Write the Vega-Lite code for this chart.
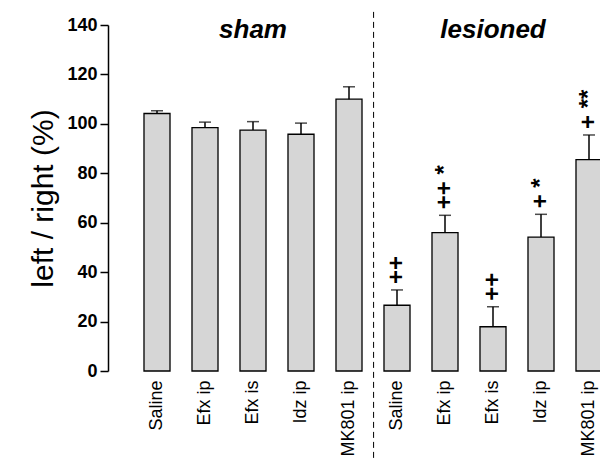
{
  "$schema": "https://vega.github.io/schema/vega-lite/v6.json",
  "width": 492,
  "height": 346,
  "autosize": {"type": "none"},
  "padding": {"left": 108, "top": 25, "right": 0, "bottom": 88},
  "background": "white",
  "config": {"view": {"stroke": null}, "font": "Liberation Sans"},
  "datasets": {
    "bars": [
      {"key": "s-Saline", "group": "sham", "treatment": "Saline", "mean": 104.2, "upper": 105.3, "mark": ""},
      {"key": "s-Efx ip", "group": "sham", "treatment": "Efx ip", "mean": 98.5, "upper": 100.7, "mark": ""},
      {"key": "s-Efx is", "group": "sham", "treatment": "Efx is", "mean": 97.5, "upper": 100.9, "mark": ""},
      {"key": "s-Idz ip", "group": "sham", "treatment": "Idz ip", "mean": 95.8, "upper": 100.3, "mark": ""},
      {"key": "s-MK801 ip", "group": "sham", "treatment": "MK801 ip", "mean": 110.0, "upper": 115.0, "mark": ""},
      {"key": "l-Saline", "group": "lesioned", "treatment": "Saline", "mean": 26.6, "upper": 32.8, "mark": "++"},
      {"key": "l-Efx ip", "group": "lesioned", "treatment": "Efx ip", "mean": 56.0, "upper": 63.0, "mark": "++ *"},
      {"key": "l-Efx is", "group": "lesioned", "treatment": "Efx is", "mean": 17.9, "upper": 26.0, "mark": "++"},
      {"key": "l-Idz ip", "group": "lesioned", "treatment": "Idz ip", "mean": 54.2, "upper": 63.4, "mark": "+ *"},
      {"key": "l-MK801 ip", "group": "lesioned", "treatment": "MK801 ip", "mean": 85.5, "upper": 95.5, "mark": "+ **"}
    ],
    "groups": [
      {"key": "s-Efx is", "label": "sham"},
      {"key": "l-Efx is", "label": "lesioned"}
    ],
    "divider": [
      {"key": "l-Saline"}
    ]
  },
  "layer": [
    {
      "data": {"name": "bars"},
      "mark": {"type": "bar", "fill": "#d6d6d6", "stroke": "black", "strokeWidth": 1.3},
      "encoding": {
        "x": {
          "field": "key",
          "type": "nominal",
          "sort": null,
          "scale": {
            "domain": ["s-Saline", "s-Efx ip", "s-Efx is", "s-Idz ip", "s-MK801 ip", "l-Saline", "l-Efx ip", "l-Efx is", "l-Idz ip", "l-MK801 ip"],
            "range": [25, 505],
            "paddingInner": 0.458,
            "paddingOuter": 0.229
          },
          "axis": {
            "title": null,
            "domain": false,
            "ticks": false,
            "labelAngle": -90,
            "labelAlign": "right",
            "labelBaseline": "middle",
            "labelFontSize": 18,
            "labelPadding": 9,
            "labelColor": "black",
            "labelExpr": "slice(datum.label, 2)"
          }
        },
        "y": {
          "field": "mean",
          "type": "quantitative",
          "scale": {"domain": [0, 140], "nice": false},
          "axis": {
            "title": "left / right (%)",
            "titleFontSize": 30,
            "titleFontWeight": "normal",
            "titleColor": "black",
            "titlePadding": 8,
            "values": [0, 20, 40, 60, 80, 100, 120, 140],
            "labelFontSize": 18,
            "labelFontWeight": "bold",
            "labelColor": "black",
            "labelPadding": 3,
            "tickSize": 8,
            "tickColor": "black",
            "tickWidth": 1.5,
            "domainColor": "black",
            "domainWidth": 1.5,
            "grid": false
          }
        }
      }
    },
    {
      "data": {"name": "bars"},
      "mark": {"type": "rule", "color": "black", "strokeWidth": 1.5},
      "encoding": {
        "x": {"field": "key", "type": "nominal", "sort": null},
        "y": {"field": "mean", "type": "quantitative"},
        "y2": {"field": "upper"}
      }
    },
    {
      "data": {"name": "bars"},
      "mark": {"type": "tick", "color": "black", "thickness": 1.5, "size": 12},
      "encoding": {
        "x": {"field": "key", "type": "nominal", "sort": null},
        "y": {"field": "upper", "type": "quantitative"}
      }
    },
    {
      "data": {"name": "bars"},
      "transform": [{"filter": "datum.mark != ''"}],
      "mark": {"type": "text", "angle": 270, "align": "left", "baseline": "middle", "dx": 6, "fontSize": 24, "fontWeight": "bold", "color": "black"},
      "encoding": {
        "x": {"field": "key", "type": "nominal", "sort": null},
        "y": {"field": "upper", "type": "quantitative"},
        "text": {"field": "mark"}
      }
    },
    {
      "mark": {"type": "rule", "color": "black", "strokeWidth": 1.5},
      "encoding": {"y": {"datum": 0}}
    },
    {
      "data": {"name": "divider"},
      "mark": {"type": "rule", "color": "black", "strokeWidth": 1, "strokeDash": [6, 4]},
      "encoding": {
        "x": {"field": "key", "type": "nominal", "sort": null, "bandPosition": -0.4},
        "y": {"datum": 145.3},
        "y2": {"datum": -36}
      }
    },
    {
      "data": {"name": "groups"},
      "mark": {"type": "text", "fontSize": 26, "fontWeight": "bold", "fontStyle": "italic", "color": "black", "baseline": "middle", "align": "center"},
      "encoding": {
        "x": {"field": "key", "type": "nominal", "sort": null},
        "y": {"datum": 138},
        "text": {"field": "label"}
      }
    }
  ]
}
